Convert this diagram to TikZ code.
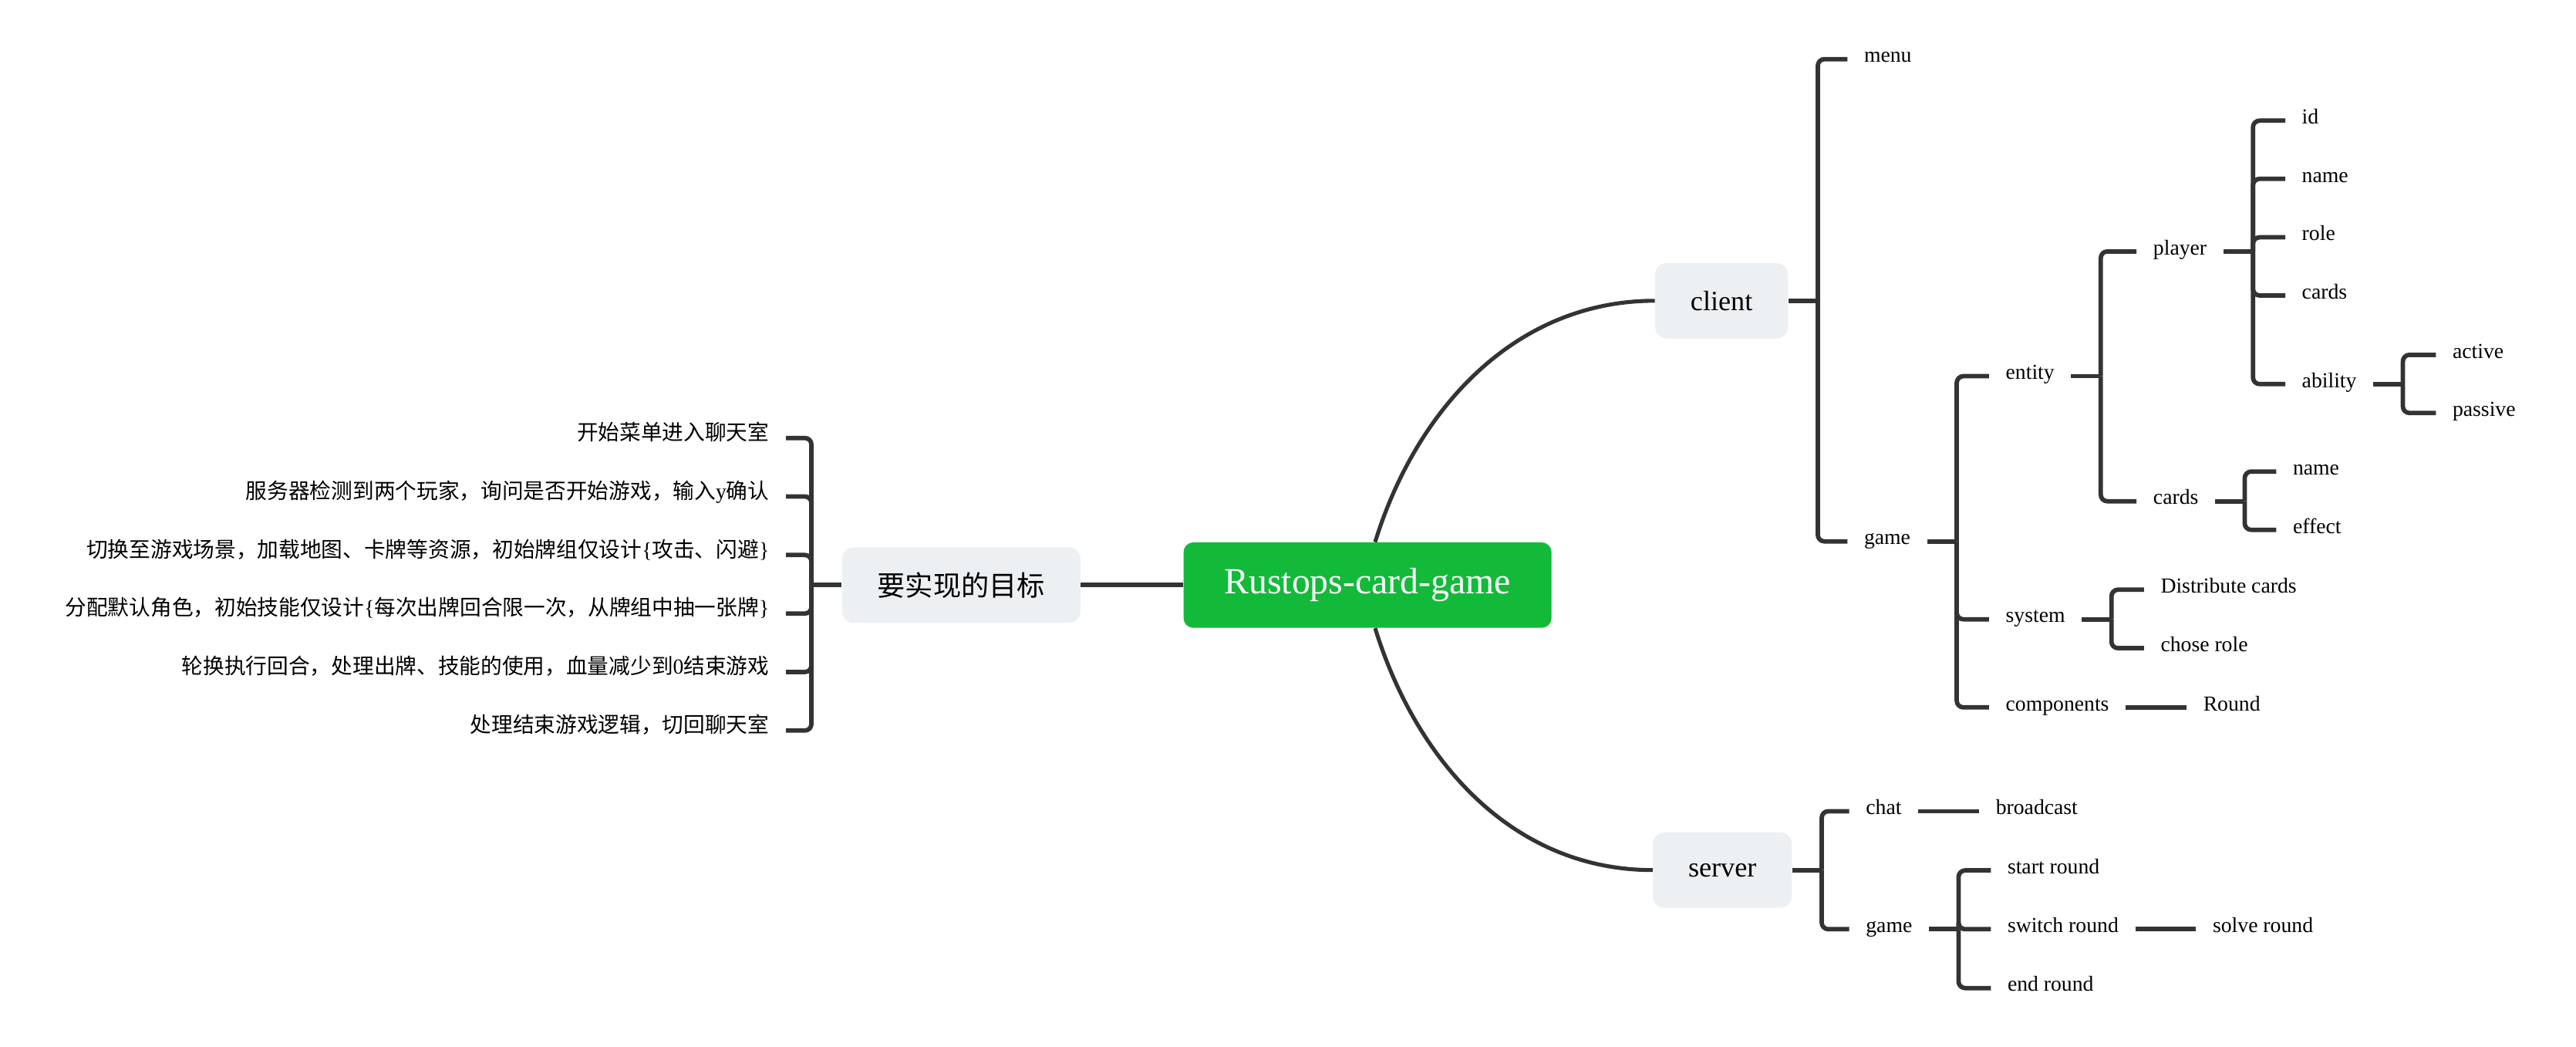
\documentclass[tikz,border=0pt]{standalone}
\usepackage{fontspec}
\setmainfont{Liberation Serif}
\newfontfamily\cjk{Noto Sans CJK SC}
\usepackage{tikz}
\usetikzlibrary{positioning, calc}

\definecolor{rootgreen}{HTML}{13BA3A}
\definecolor{topicgray}{HTML}{EDF0F3}
\definecolor{linegray}{HTML}{333333}
\newcommand{\en}[1]{{\rmfamily #1}}

\begin{document}
\begin{tikzpicture}[
    x=1pt, y=-1pt,
    centerbox/.style={
        rectangle,
        fill=rootgreen,
        text=white,
        rounded corners=6pt,
        minimum width=224pt,
        minimum height=52pt,
        font=\fontsize{22.4}{26}\selectfont
    },
    topicbox/.style={
        rectangle,
        fill=topicgray,
        rounded corners=7pt,
        inner xsep=21.5pt,
        minimum height=46pt,
        font=\fontsize{17}{20}\selectfont
    },
    leaf/.style={
        inner xsep=10pt, inner ysep=0pt,
        text height=4pt, text depth=0pt,
        font=\fontsize{13}{15}\selectfont
    },
    goalleaf/.style={
        leaf, anchor=east, text height=2.6pt,
        font=\cjk\fontsize{13}{15}\selectfont
    },
    conn/.style={draw=linegray, line width=2.7pt, rounded corners=4pt},
    curve/.style={draw=linegray, line width=2.4pt}
]
\useasboundingbox (0,0) rectangle (1568,636.6);

% Main topics
\node [centerbox] (root) at (832.4,356) {Rustops-card-game};
\node [topicbox] (goal) at (585.1,356) {\cjk 要实现的目标};
\node [topicbox] (client) at (1047.9,183) {client};
\node [topicbox] (server) at (1048.4,529.4) {server};

% Goals (left side)
\node [goalleaf] (g1) at (478.4,266.5) {开始菜单进入聊天室};
\node [goalleaf] (g2) at (478.4,302.1) {服务器检测到两个玩家，询问是否开始游戏，输入\en{y}确认};
\node [goalleaf] (g3) at (478.4,337.7) {切换至游戏场景，加载地图、卡牌等资源，初始牌组仅设计\en{\{}攻击、闪避\en{\}}};
\node [goalleaf] (g4) at (478.4,373.3) {分配默认角色，初始技能仅设计\en{\{}每次出牌回合限一次，从牌组中抽一张牌\en{\}}};
\node [goalleaf] (g5) at (478.4,408.9) {轮换执行回合，处理出牌、技能的使用，血量减少到\en{0}结束游戏};
\node [goalleaf] (g6) at (478.4,444.5) {处理结束游戏逻辑，切回聊天室};

% Client
\node [leaf, anchor=west] (menu) at (1124.5,36) {menu};
\node [leaf, anchor=west] (cgame) at (1124.5,329.4) {game};
\node [leaf, anchor=west] (entity) at (1210.7,228.9) {entity};
\node [leaf, anchor=west] (system) at (1210.7,376.8) {system};
\node [leaf, anchor=west] (components) at (1210.7,430.4) {components};
\node [leaf, right=37pt of components] (round) {Round};

\node [leaf, anchor=west] (player) at (1300.5,153) {player};
\node [leaf, anchor=west] (ecards) at (1300.5,305) {cards};
\node [leaf, anchor=west] (id) at (1391,73.4) {id};
\node [leaf, anchor=west] (pname) at (1391,108.8) {name};
\node [leaf, anchor=west] (role) at (1391,144.4) {role};
\node [leaf, anchor=west] (pcards) at (1391,179.8) {cards};
\node [leaf, anchor=west] (ability) at (1391,233.7) {ability};
\node [leaf, anchor=west] (active) at (1482.7,215.9) {active};
\node [leaf, anchor=west] (passive) at (1482.7,251.3) {passive};
\node [leaf, anchor=west] (cname) at (1385.5,286.9) {name};
\node [leaf, anchor=west] (effect) at (1385.5,322.4) {effect};
\node [leaf, anchor=west] (distribute) at (1305,358.8) {Distribute cards};
\node [leaf, anchor=west] (chose) at (1305,394.4) {chose role};

% Server
\node [leaf, anchor=west] (chat) at (1125.6,493.6) {chat};
\node [leaf, right=37pt of chat] (broadcast) {broadcast};
\node [leaf, anchor=west] (sgame) at (1125.6,565.4) {game};
\node [leaf, anchor=west] (start) at (1211.8,529.6) {start round};
\node [leaf, anchor=west] (switch) at (1211.8,565.4) {switch round};
\node [leaf, anchor=west] (endround) at (1211.8,601.2) {end round};
\node [leaf, right=37pt of switch] (solve) {solve round};

% Bracket joints
\coordinate (jgoal) at ($(goal.west)+(-18.5,0)$);
\coordinate (jclient) at ($(client.east)+(18,0)$);
\coordinate (jcgame) at ($(cgame.east)+(18,0)$);
\coordinate (jentity) at ($(entity.east)+(18,0)$);
\coordinate (jplayer) at ($(player.east)+(18,0)$);
\coordinate (jability) at ($(ability.east)+(18,0)$);
\coordinate (jecards) at ($(ecards.east)+(18,0)$);
\coordinate (jsystem) at ($(system.east)+(18,0)$);
\coordinate (jserver) at ($(server.east)+(18,0)$);
\coordinate (jsgame) at ($(sgame.east)+(18,0)$);

% Curves from the root
\draw [curve] (root.80) .. controls +(25,-81) and +(-85,0) .. (client.west);
\draw [curve] (root.-80) .. controls +(25,81) and +(-85,0) .. (server.west);
\draw [conn] (goal) -- (root);

% Brackets
\draw [conn] (goal.west) -- (jgoal);
\foreach \i in {1,...,6}
    \draw [conn] (jgoal) |- (g\i.east);

\draw [conn] (client.east) -- (jclient);
\foreach \c in {menu,cgame}
    \draw [conn] (jclient) |- (\c.west);

\draw [conn] (cgame.east) -- (jcgame);
\foreach \c in {entity,system,components}
    \draw [conn] (jcgame) |- (\c.west);

\draw [conn] (entity.east) -- (jentity);
\foreach \c in {player,ecards}
    \draw [conn] (jentity) |- (\c.west);

\draw [conn] (player.east) -- (jplayer);
\foreach \c in {id,pname,role,pcards,ability}
    \draw [conn] (jplayer) |- (\c.west);

\draw [conn] (ability.east) -- (jability);
\foreach \c in {active,passive}
    \draw [conn] (jability) |- (\c.west);

\draw [conn] (ecards.east) -- (jecards);
\foreach \c in {cname,effect}
    \draw [conn] (jecards) |- (\c.west);

\draw [conn] (system.east) -- (jsystem);
\foreach \c in {distribute,chose}
    \draw [conn] (jsystem) |- (\c.west);

\draw [conn] (server.east) -- (jserver);
\foreach \c in {chat,sgame}
    \draw [conn] (jserver) |- (\c.west);

\draw [conn] (sgame.east) -- (jsgame);
\foreach \c in {start,switch,endround}
    \draw [conn] (jsgame) |- (\c.west);

% Single links
\draw [conn] (components) -- (round);
\draw [conn] (chat) -- (broadcast);
\draw [conn] (switch) -- (solve);

\end{tikzpicture}
\end{document}
